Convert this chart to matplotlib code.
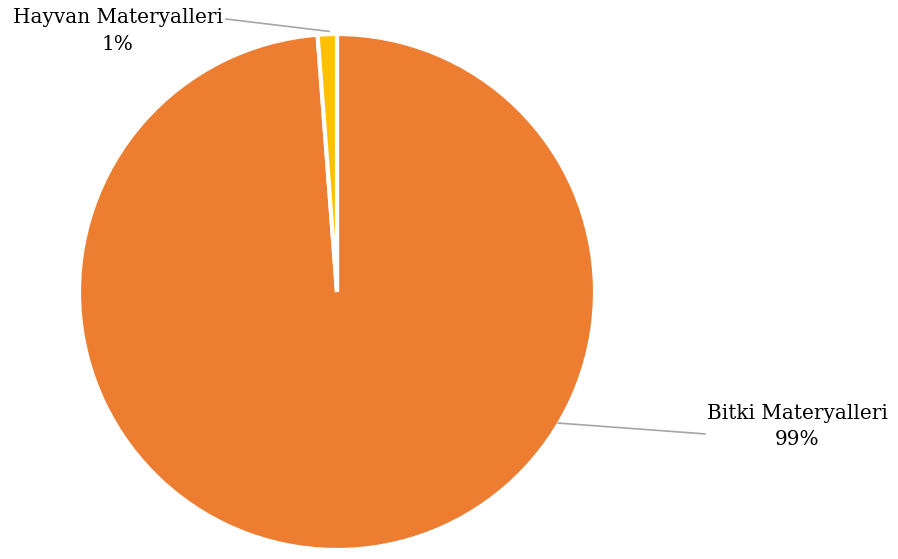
import matplotlib
matplotlib.use("Agg")
import matplotlib.pyplot as plt

# data
categories = ["Bitki Materyalleri", "Hayvan Materyalleri"]
shares = [98.8, 1.2]
colors = ["#ED7D31", "#FFC000"]

plt.rcParams["font.family"] = ["DejaVu Serif"]

fig = plt.figure(figsize=(8.98, 5.59), dpi=100)
ax = fig.add_axes([79 / 898, 9 / 559, 516 / 898, 516 / 559])

wedges, _ = ax.pie(shares, colors=colors, startangle=90, counterclock=False,
                   radius=1.0, wedgeprops=dict(edgecolor="white", linewidth=3))
ax.set_xlim(-1, 1)
ax.set_ylim(-1, 1)
ax.set_aspect("equal")
ax.axis("off")

label_text = ["%s\n%d%%" % (c, round(s)) for c, s in zip(categories, shares)]

# leader lines and labels
ax.plot([-0.03, -0.43], [1.01, 1.058], color="#A6A6A6", lw=1.2, clip_on=False)
ax.text(-0.85, 1.012, label_text[1], ha="center", va="center", fontsize=14.4,
        linespacing=1.5, color="black")

ax.plot([0.857, 1.426], [-0.508, -0.55], color="#A6A6A6", lw=1.2, clip_on=False)
ax.text(1.783, -0.522, label_text[0], ha="center", va="center", fontsize=14.4,
        linespacing=1.5, color="black")

fig.savefig("out.png", dpi=100)
